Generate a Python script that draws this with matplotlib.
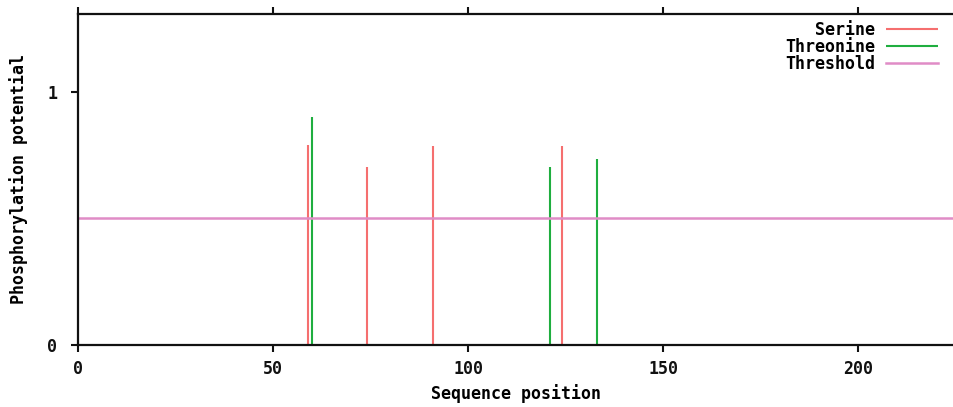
import matplotlib
matplotlib.use("Agg")
from matplotlib import pyplot as plt

# predicted sites: sequence position and score
serine_pos = [59, 74, 91, 124]
serine_score = [0.79, 0.705, 0.787, 0.787]
threonine_pos = [60, 121, 133]
threonine_score = [0.902, 0.705, 0.735]
threshold = 0.5

xticks = [0, 50, 100, 150, 200]
yticks = [0, 1]

plt.rcParams['font.family'] = 'DejaVu Sans Mono'
plt.rcParams['font.weight'] = 'bold'
plt.rcParams['axes.labelweight'] = 'bold'

fig = plt.figure(figsize=(9.54, 4.07), dpi=100)
ax = fig.add_axes([78 / 954, 62 / 407, 1 - 78 / 954, 331 / 407])

ax.vlines(serine_pos, 0, serine_score, color="#f56f6f", lw=1.5, label="Serine")
ax.vlines(threonine_pos, 0, threonine_score, color="#1fae3f", lw=1.5, label="Threonine")
ax.axhline(threshold, color="#e08cc6", lw=1.8, label="Threshold")

ax.set_xlim(0, 224.6)
ax.set_ylim(0, 1.308)
ax.set_xticks(xticks)
ax.set_yticks(yticks)
ax.tick_params(direction='out', length=5, width=1.5, labelsize=12, pad=10, colors='#111111')
ax.tick_params(axis='x', top=True, pad=6)
for s in ['left', 'bottom', 'top']:
    ax.spines[s].set_linewidth(1.6)
    ax.spines[s].set_color('#111111')
ax.spines['right'].set_visible(False)

ax.set_xlabel('Sequence position', fontsize=12, labelpad=4)
ax.set_ylabel('Phosphorylation potential', fontsize=12, labelpad=14)

ax.legend(loc='upper right', bbox_to_anchor=(0.999, 1.025), frameon=False, markerfirst=False,
          fontsize=12, handlelength=3.1, handletextpad=0.7, labelspacing=-0.05,
          borderaxespad=0.5)

fig.savefig('out.png', dpi=100)
